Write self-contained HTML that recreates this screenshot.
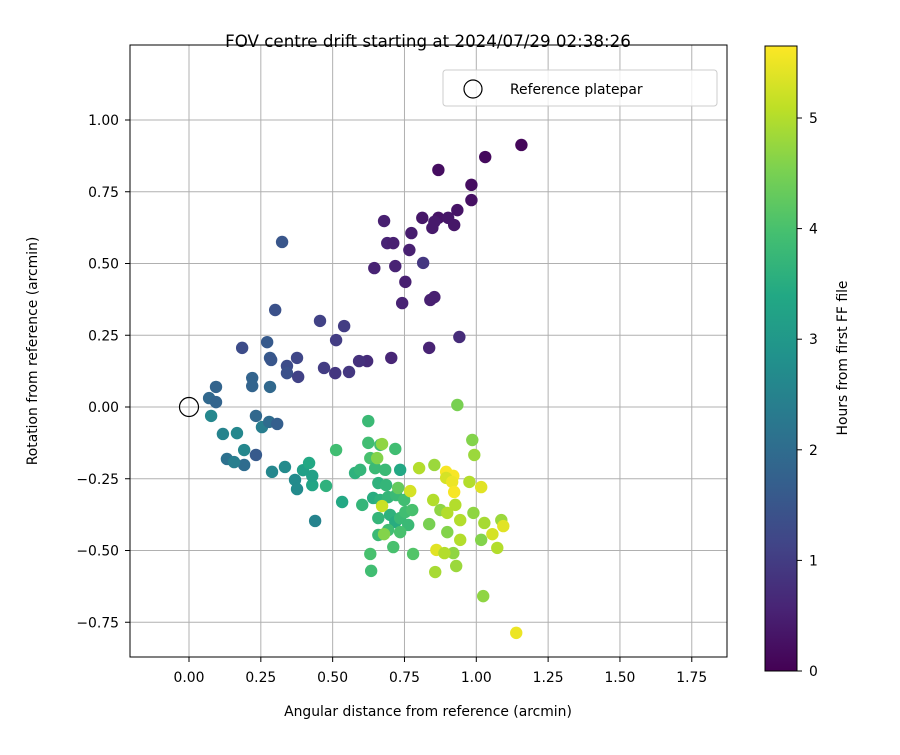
<!DOCTYPE html>
<html><head><meta charset="utf-8"><style>
html,body{margin:0;padding:0;background:#fff;}
svg text{font-family:"DejaVu Sans","Liberation Sans",sans-serif;fill:#000;}
</style></head><body>
<svg id="chart" width="900" height="750" xmlns="http://www.w3.org/2000/svg">
<defs>
<linearGradient id="vir" x1="0" y1="1" x2="0" y2="0">
<stop offset="0" stop-color="#440154"/><stop offset="0.1" stop-color="#482475"/><stop offset="0.2" stop-color="#414487"/><stop offset="0.3" stop-color="#355f8d"/><stop offset="0.4" stop-color="#2a788e"/><stop offset="0.5" stop-color="#21918c"/><stop offset="0.6" stop-color="#22a884"/><stop offset="0.7" stop-color="#44bf70"/><stop offset="0.8" stop-color="#7ad151"/><stop offset="0.9" stop-color="#bddf26"/><stop offset="1" stop-color="#fde725"/>
</linearGradient>
<clipPath id="clip"><rect x="130" y="45" width="597" height="612"/></clipPath>
</defs>
<rect x="0" y="0" width="900" height="750" fill="#fff"/>
<g id="grid"></g>
<g id="points" clip-path="url(#clip)"></g>
<rect x="130" y="45" width="597" height="612" fill="none" stroke="#000" stroke-width="1"/>
<g id="axes"></g>
<text x="428" y="47" font-size="16.7" text-anchor="middle">FOV centre drift starting at 2024/07/29 02:38:26</text>
<text x="428" y="716" font-size="13.9" text-anchor="middle">Angular distance from reference (arcmin)</text>
<text x="0" y="0" font-size="13.9" text-anchor="middle" transform="translate(37,351) rotate(-90)">Rotation from reference (arcmin)</text>
<g>
<rect x="443" y="70" width="274" height="36" rx="3" fill="#fff" fill-opacity="0.8" stroke="#ccc"/>
<circle cx="473" cy="89" r="9" fill="none" stroke="#000" stroke-width="1.2"/>
<text x="510" y="94" font-size="13.9">Reference platepar</text>
</g>
<rect x="765" y="46" width="32" height="625" fill="url(#vir)" stroke="#000" stroke-width="1"/>
<g id="cbar"></g>
<text x="0" y="0" font-size="13.9" text-anchor="middle" transform="translate(847,358) rotate(-90)">Hours from first FF file</text>
</svg>
<script>
const xs=[1.157,1.031,0.868,0.983,0.983,0.868,0.812,0.902,0.934,0.923,0.847,0.854,0.679,0.690,0.711,0.774,0.767,0.815,0.718,0.645,0.753,0.742,0.840,0.854,0.941,0.836,0.704,0.620,0.592,0.557,0.509,0.470,0.512,0.540,0.456,0.324,0.300,0.272,0.282,0.286,0.341,0.341,0.376,0.380,0.185,0.220,0.220,0.282,0.094,0.070,0.094,0.077,0.118,0.167,0.233,0.254,0.279,0.307,0.233,0.192,0.192,0.132,0.157,0.289,0.334,0.369,0.376,0.397,0.418,0.429,0.429,0.439,0.477,0.512,0.533,0.578,0.603,
0.624,0.624,0.666,0.718,0.631,0.596,0.648,0.683,0.735,0.659,0.686,0.641,0.666,0.693,0.721,0.749,0.659,0.700,0.718,0.735,0.753,0.763,0.693,0.735,0.659,0.711,0.631,0.780,0.634,0.777,0.728,
0.934,0.986,0.993,0.801,0.854,0.895,0.920,0.895,0.916,0.976,1.017,0.770,0.923,0.850,0.927,0.875,0.990,0.899,0.944,1.028,1.087,1.094,0.836,0.899,1.056,0.944,1.017,0.861,0.920,0.889,1.073,0.930,0.857,1.024,1.139,0.672,0.679,0.672,0.655];
const ys=[0.913,0.871,0.826,0.774,0.721,0.659,0.659,0.659,0.686,0.634,0.624,0.645,0.648,0.571,0.571,0.606,0.547,0.502,0.491,0.484,0.436,0.362,0.373,0.383,0.244,0.206,0.171,0.160,0.160,0.122,0.118,0.136,0.233,0.282,0.300,0.575,0.338,0.226,0.171,0.164,0.143,0.118,0.171,0.105,0.206,0.101,0.073,0.070,0.070,0.031,0.017,-0.031,-0.094,-0.091,-0.031,-0.070,-0.052,-0.059,-0.167,-0.150,-0.202,-0.181,-0.192,-0.226,-0.209,-0.254,-0.286,-0.220,-0.195,-0.272,-0.240,-0.397,-0.275,-0.150,-0.331,-0.230,-0.341,
-0.049,-0.125,-0.132,-0.146,-0.178,-0.219,-0.213,-0.219,-0.219,-0.265,-0.272,-0.317,-0.324,-0.314,-0.307,-0.324,-0.387,-0.376,-0.401,-0.387,-0.366,-0.411,-0.429,-0.436,-0.446,-0.488,-0.512,-0.512,-0.571,-0.359,-0.282,
0.007,-0.115,-0.167,-0.213,-0.202,-0.226,-0.240,-0.247,-0.261,-0.261,-0.279,-0.293,-0.296,-0.324,-0.341,-0.359,-0.369,-0.369,-0.394,-0.404,-0.394,-0.415,-0.408,-0.436,-0.443,-0.463,-0.463,-0.498,-0.509,-0.509,-0.491,-0.554,-0.575,-0.659,-0.787,-0.129,-0.443,-0.345,-0.178];
const hours=[0.1,0.15,0.2,0.2,0.25,0.3,0.35,0.35,0.3,0.35,0.4,0.4,0.5,0.55,0.5,0.45,0.5,0.9,0.55,0.55,0.5,0.55,0.5,0.5,0.7,0.55,0.6,0.7,0.8,0.9,0.9,1.0,1.0,1.0,1.1,1.5,1.4,1.6,1.6,1.5,1.3,1.4,1.2,1.1,1.3,1.8,1.8,1.9,1.8,1.9,1.8,2.6,2.5,2.6,1.9,2.4,2.0,1.7,1.6,2.6,2.0,2.1,2.4,2.6,2.7,2.7,2.7,3.2,3.4,3.3,3.2,2.5,3.6,3.9,3.4,3.6,3.7,
3.8,3.9,3.9,3.9,4.0,3.7,3.8,3.8,3.4,3.6,3.7,3.5,3.6,3.7,3.8,3.9,3.7,3.6,3.5,3.8,3.9,3.8,3.9,4.0,3.8,4.0,4.0,4.1,3.9,4.0,4.3,
4.5,4.6,4.8,5.0,4.8,5.6,5.6,5.3,5.5,5.0,5.4,5.3,5.6,5.0,5.0,4.7,4.7,5.0,5.0,4.9,4.8,5.4,4.5,4.6,5.3,5.0,4.6,5.4,4.7,5.0,5.0,4.8,4.9,4.7,5.5,4.7,4.6,5.2,4.6];
const xTicks=[0,0.25,0.5,0.75,1.0,1.25,1.5,1.75];
const yTicks=[-0.75,-0.5,-0.25,0,0.25,0.5,0.75,1.0];
const cTicks=[0,1,2,3,4,5];
const NS='http://www.w3.org/2000/svg';
const X=v=>189+v*287.3, Y=v=>407-v*287;
const C=v=>671-v*110.6;
const vir=[[68,1,84],[72,36,117],[65,68,135],[53,95,141],[42,120,142],[33,145,140],[34,168,132],[68,191,112],[122,209,81],[189,223,38],[253,231,37]];
function color(h){let t=Math.max(0,Math.min(1,h/5.65))*10;let i=Math.min(9,Math.floor(t)),f=t-i;const a=vir[i],b=vir[i+1];return 'rgb('+a.map((c,k)=>Math.round(c+(b[k]-c)*f)).join(',')+')';}
function fmt(v){const s=Math.abs(v).toFixed(2);return v<0?'\u2212'+s:s;}
function mk(tag,attrs,parent){const e=document.createElementNS(NS,tag);for(const k in attrs)e.setAttribute(k,attrs[k]);parent.appendChild(e);return e;}
const grid=document.getElementById('grid'),axes=document.getElementById('axes'),pts=document.getElementById('points'),cb=document.getElementById('cbar');
xTicks.forEach(v=>{const x=X(v);
const g=mk('line',{x1:x,x2:x,y1:45,y2:657,stroke:'#b0b0b0','stroke-width':1},grid);


const t=mk('line',{x1:x,x2:x,y1:657,y2:662,stroke:'#000'},axes);


const l=mk('text',{x:x,y:682,'font-size':13.9,'text-anchor':'middle'},axes);l.textContent=fmt(v);

});
yTicks.forEach(v=>{const y=Y(v);
const g=mk('line',{x1:130,x2:727,y1:y,y2:y,stroke:'#b0b0b0','stroke-width':1},grid);


const t=mk('line',{x1:125,x2:130,y1:y,y2:y,stroke:'#000'},axes);


const l=mk('text',{x:119,y:y+5,'font-size':13.9,'text-anchor':'end'},axes);l.textContent=fmt(v);

});
for(let i=0;i<xs.length;i++){
const c=mk('circle',{cx:X(xs[i]),cy:Y(ys[i]),r:6.2,fill:color(hours[i])},pts);

}
const ref=mk('circle',{cx:X(0),cy:Y(0),r:9.5,fill:'none',stroke:'#000','stroke-width':1.2},pts);


cTicks.forEach(v=>{const y=C(v);
const t=mk('line',{x1:797,x2:802,y1:y,y2:y,stroke:'#000'},cb);


const l=mk('text',{x:809,y:y+5,'font-size':13.9},cb);l.textContent=String(v);

});
</script>
</body></html>
